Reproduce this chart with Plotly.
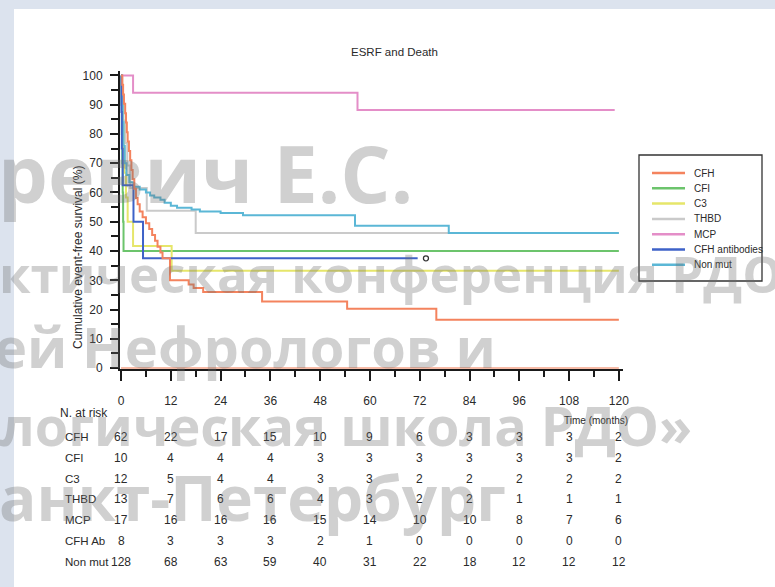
import plotly.graph_objects as go

# ---------------- data ----------------
chart_title = "ESRF and Death"
y_title = "Cumulative event-free survival (%)"
x_title = "Time (months)"

series_names = ["CFH", "CFI", "C3", "THBD", "MCP", "CFH antibodies", "Non mut"]
series_colors = ["#F4835E", "#6CC46C", "#E6E66A", "#CACACA", "#E48EC8", "#3E62C8", "#5BB7D6"]

cfh_t = [0, 0.3, 0.5, 0.7, 1.0, 1.2, 1.4, 1.6, 1.9, 2.2, 2.5, 2.8, 3.2, 3.6, 4.0, 4.5, 5.2,
         6.0, 6.8, 7.5, 8.2, 8.8, 9.5, 10.0, 11.8, 16.3, 17.5, 19.8, 34.0, 54.5, 76.0, 120]
cfh_s = [100, 96.8, 93.5, 90.3, 87.1, 83.9, 80.6, 77.4, 74.2, 71.0, 67.7, 64.5, 61.3, 58.1, 56.0, 53.5, 51.5,
         49.5, 47.5, 45.5, 43.5, 41.5, 39.5, 37.5, 30.0, 28.6, 27.4, 26.0, 22.8, 20.3, 16.5, 16.5]

cfi_t = [0, 0.1, 0.2, 0.3, 0.4, 0.5, 0.6, 120]
cfi_s = [100, 90, 80, 70, 60, 50, 40, 40]

c3_t = [0, 0.2, 0.4, 0.6, 0.8, 1.2, 1.6, 2.9, 12.2, 120]
c3_s = [100, 91.7, 83.3, 75.0, 66.7, 58.3, 50.0, 41.7, 33.3, 33.3]

thbd_t = [0, 0.3, 0.6, 1.0, 1.5, 2.2, 6.2, 18.0, 120]
thbd_s = [100, 92.3, 84.6, 76.9, 69.2, 61.5, 53.8, 46.2, 46.2]

mcp_t = [0, 2.9, 57.0, 119]
mcp_s = [100, 94.1, 88.2, 88.2]

cfhab_t = [0, 0.1, 0.2, 0.4, 3.0, 5.3, 71.5]
cfhab_s = [100, 87.5, 75.0, 62.5, 50.0, 37.5, 37.5]
cfhab_censor_t = [73.5]
cfhab_censor_s = [37.5]

nonmut_t = [0, 0.2, 0.4, 0.6, 0.9, 1.3, 2.0, 3.0, 4.5, 6.0, 7.0, 8.0, 9.5, 10.5, 12.0, 13.5,
            17.0, 19.0, 24.0, 29.4, 56.4, 79.0, 120]
nonmut_s = [100, 92, 84, 76, 70, 66, 63.5, 62, 61, 60, 59, 58.3, 57.5, 56.5, 55.5, 54.8,
            54.2, 53.5, 53.0, 52.2, 48.6, 46.2, 46.2]

risk_times = [0, 12, 24, 36, 48, 60, 72, 84, 96, 108, 120]
risk_labels = ["CFH", "CFI", "C3", "THBD", "MCP", "CFH Ab", "Non mut"]
risk_cfh = [62, 22, 17, 15, 10, 9, 6, 3, 3, 3, 2]
risk_cfi = [10, 4, 4, 4, 3, 3, 3, 3, 3, 3, 2]
risk_c3 = [12, 5, 4, 4, 3, 3, 2, 2, 2, 2, 2]
risk_thbd = [13, 7, 6, 6, 4, 3, 2, 2, 1, 1, 1]
risk_mcp = [17, 16, 16, 16, 15, 14, 10, 10, 8, 7, 6]
risk_cfhab = [8, 3, 3, 3, 2, 1, 0, 0, 0, 0, 0]
risk_nonmut = [128, 68, 63, 59, 40, 31, 22, 18, 12, 12, 12]

watermark_lines = ["ревич Е.С.", "ктическая конференция РДО", "ей Нефрологов и",
                   "логическая школа РДО»", "анкт-Петербург"]

# ---------------- layout geometry ----------------
W, H = 775, 587
PL, PR, PT, PB = 120, 623, 71, 369


def px(p):
    return (p - PL) / (PR - PL)


def py(p):
    return (PB - p) / (PB - PT)


SANS = "Liberation Sans, Arial, Helvetica, sans-serif"
TXT = "#2a2a2a"

fig = go.Figure()

curves = [(cfh_t, cfh_s), (cfi_t, cfi_s), (c3_t, c3_s), (thbd_t, thbd_s),
          (mcp_t, mcp_s), (cfhab_t, cfhab_s), (nonmut_t, nonmut_s)]
draw_order = [3, 1, 2, 4, 6, 5, 0]
for i in draw_order:
    t, s = curves[i]
    fig.add_trace(go.Scatter(x=t, y=s, mode="lines", name=series_names[i],
                             line=dict(color=series_colors[i], width=2, shape="hv"),
                             showlegend=False, hoverinfo="skip"))

fig.add_trace(go.Scatter(x=cfhab_censor_t, y=cfhab_censor_s, mode="markers",
                         marker=dict(symbol="circle-open", size=5, color="#333333",
                                     line=dict(width=1.3, color="#333333")),
                         showlegend=False, hoverinfo="skip"))

shapes = []
annotations = []


def note(text, x, y, size, xanchor="center", xref="paper", angle=0, family=SANS, color=TXT, weight=None):
    f = dict(family=family, size=size, color=color)
    if weight:
        f["weight"] = weight
    annotations.append(dict(text=text, xref=xref, yref="paper", x=x, y=y, xanchor=xanchor,
                            yanchor="middle", textangle=angle, showarrow=False, font=f))


# background slide strips
shapes.append(dict(type="rect", xref="paper", yref="paper", x0=px(0), x1=px(W), y0=py(0), y1=py(9),
                   fillcolor="#DCE3EE", line=dict(width=0), layer="below"))
shapes.append(dict(type="rect", xref="paper", yref="paper", x0=px(0), x1=px(14), y0=py(0), y1=py(H),
                   fillcolor="#DCE3EE", line=dict(width=0), layer="below"))

# salmon baseline along the x axis
shapes.append(dict(type="line", xref="x", yref="y", x0=0, x1=120, y0=0, y1=0,
                   line=dict(color="#F4A58A", width=1.5), layer="above"))

note(chart_title, px(394), py(52), 11.5)
note(y_title, px(78), py(258), 12, angle=-90)
note(x_title, px(596), py(420), 10)

# legend box
shapes.append(dict(type="rect", xref="paper", yref="paper", x0=px(639), x1=px(762), y0=py(155), y1=py(281),
                   line=dict(color="#333333", width=1.3), fillcolor="rgba(0,0,0,0)"))
for i, name in enumerate(series_names):
    yy = 173 + 15.3 * i
    shapes.append(dict(type="line", xref="paper", yref="paper", x0=px(652), x1=px(685), y0=py(yy), y1=py(yy),
                       line=dict(color=series_colors[i], width=2.5)))
    note(name, px(692), py(yy), 10, xanchor="left")

# risk table
note("N. at risk", px(58), py(413), 12, xanchor="left")
risk_rows = [risk_cfh, risk_cfi, risk_c3, risk_thbd, risk_mcp, risk_cfhab, risk_nonmut]
for r, (lab, row) in enumerate(zip(risk_labels, risk_rows)):
    yy = 437 + 20.8 * r
    note(lab, px(63), py(yy), 11.5, xanchor="left")
    for t, v in zip(risk_times, row):
        note(str(v), t, py(yy), 12, xref="x")

# watermark (semi-transparent, on top)
wm_specs = [(-4, 172, 79), (-3, 273, 51), (-8, 346, 56), (-2, 425, 54), (-3, 497, 62)]
for text, (x0, yc, fs) in zip(watermark_lines, wm_specs):
    note(text, px(x0), py(yc), fs, xanchor="left", family="Open Sans",
         color="rgba(110,110,110,0.32)", weight="bold")

fig.update_layout(
    width=W, height=H,
    margin=dict(l=PL, r=W - PR, t=PT, b=H - PB, pad=0),
    paper_bgcolor="white", plot_bgcolor="white",
    showlegend=False,
    shapes=shapes, annotations=annotations,
    xaxis=dict(range=[-0.25, 121], showgrid=False, zeroline=False,
               showline=True, linecolor="#1a1a1a", linewidth=2,
               tick0=0, dtick=12, ticks="outside", ticklen=10, tickwidth=2, tickcolor="#1a1a1a",
               ticklabelstandoff=10,
               tickfont=dict(family=SANS, size=12, color=TXT),
               minor=dict(dtick=6, tick0=0, ticks="outside", ticklen=6, tickwidth=2, tickcolor="#1a1a1a")),
    yaxis=dict(range=[-0.3, 101.5], showgrid=False, zeroline=False,
               showline=True, linecolor="#1a1a1a", linewidth=2,
               tick0=0, dtick=10, ticks="outside", ticklen=8, tickwidth=2, tickcolor="#1a1a1a",
               ticklabelstandoff=5,
               tickfont=dict(family=SANS, size=12, color=TXT),
               minor=dict(dtick=5, tick0=0, ticks="outside", ticklen=7, tickwidth=2, tickcolor="#1a1a1a")),
)

fig.write_html("out.html", config={"displayModeBar": False},
               post_script="document.body.style.margin='0px';")
